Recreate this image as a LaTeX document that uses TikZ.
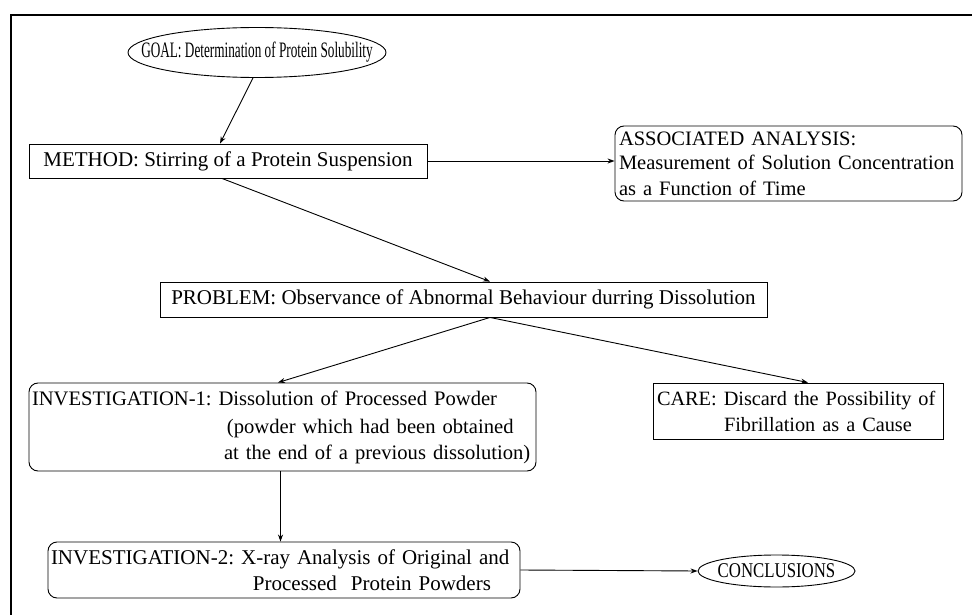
\documentclass[tikz,border=0pt]{standalone}
\usepackage{fontspec}
\setmainfont{Liberation Serif}
\usetikzlibrary{shapes.geometric,arrows.meta}
\begin{document}
\frenchspacing
\begin{tikzpicture}[x=1pt,y=-1pt,
  every node/.style={font=\fontsize{21}{26}\selectfont},
  sqbox/.style={draw, line width=0.9pt, rectangle, inner xsep=4pt, inner ysep=0pt, align=left},
  rbox/.style={sqbox, rounded corners=9pt},
  oval/.style={draw, line width=0.9pt, ellipse, inner sep=0pt},
  conn/.style={line width=0.9pt, -{Stealth[length=7pt,width=5pt]}}
]
\useasboundingbox (0,0) rectangle (972,615);
\draw[line width=2.2pt] (11,616) -- (11,15) -- (973,15);

\node[oval, minimum width=258, minimum height=50] (goal) at (257,52.5)
  {\makebox[0pt]{\scalebox{0.63}[1.05]{GOAL: Determination of Protein Solubility}}};

\node[sqbox, minimum width=398, minimum height=34, align=center] (method) at (228,161)
  {METHOD: Stirring of a Protein Suspension};

\node[rbox, minimum width=347, minimum height=75, inner xsep=4pt, text width=339] (assoc) at (788.5,163.5)
  {\fontsize{20.5}{24}\selectfont \mbox{ASSOCIATED ANALYSIS:}\\\mbox{Measurement of Solution Concentration}\\\mbox{as a Function of Time}};

\node[sqbox, minimum width=607, minimum height=35, align=center] (problem) at (463.5,299.5)
  {PROBLEM: Observance of Abnormal Behaviour durring Dissolution};

\node[rbox, minimum width=507, minimum height=88, inner xsep=3pt, text width=501] (inv1) at (282.5,427)
  {\fontsize{20.6}{28}\selectfont \mbox{INVESTIGATION-1: Dissolution of Processed Powder}\\
   \mbox{\hspace*{195pt}(powder which had been obtained}\\
   \mbox{\hspace*{192pt}at the end of a previous dissolution)}};

\node[sqbox, minimum width=290, minimum height=56, text width=282] (care) at (798,411)
  {\fontsize{20.3}{26}\selectfont \mbox{CARE: Discard the Possibility of}\\\mbox{\hspace*{67pt}Fibrillation as a Cause}};

\node[rbox, minimum width=472, minimum height=56, inner xsep=3pt, text width=466] (inv2) at (284,570)
  {\mbox{INVESTIGATION-2: X-ray Analysis of Original and}\\
   \mbox{\hspace*{202pt}Processed\ \ Protein Powders}};

\node[oval, minimum width=157, minimum height=32] (concl) at (776.5,571)
  {\makebox[0pt]{\scalebox{0.8}[1]{CONCLUSIONS}}};

\draw[conn] ([xshift=-4pt]goal.south) -- ([xshift=-8pt]method.north);
\draw[conn] (method.east) -- (assoc.west |- method.east);
\draw[conn] ([xshift=-6pt]method.south) -- ([xshift=26.5pt]problem.north);
\draw[conn] ([xshift=26.5pt]problem.south) -- ([xshift=-4.5pt]inv1.north);
\draw[conn] ([xshift=26.5pt]problem.south) -- ([xshift=10pt]care.north);
\draw[conn] ([xshift=-2pt]inv1.south) -- ([xshift=-2pt]inv1.south |- inv2.north);
\draw[conn] (inv2.east) -- (concl.west);
\end{tikzpicture}
\end{document}
